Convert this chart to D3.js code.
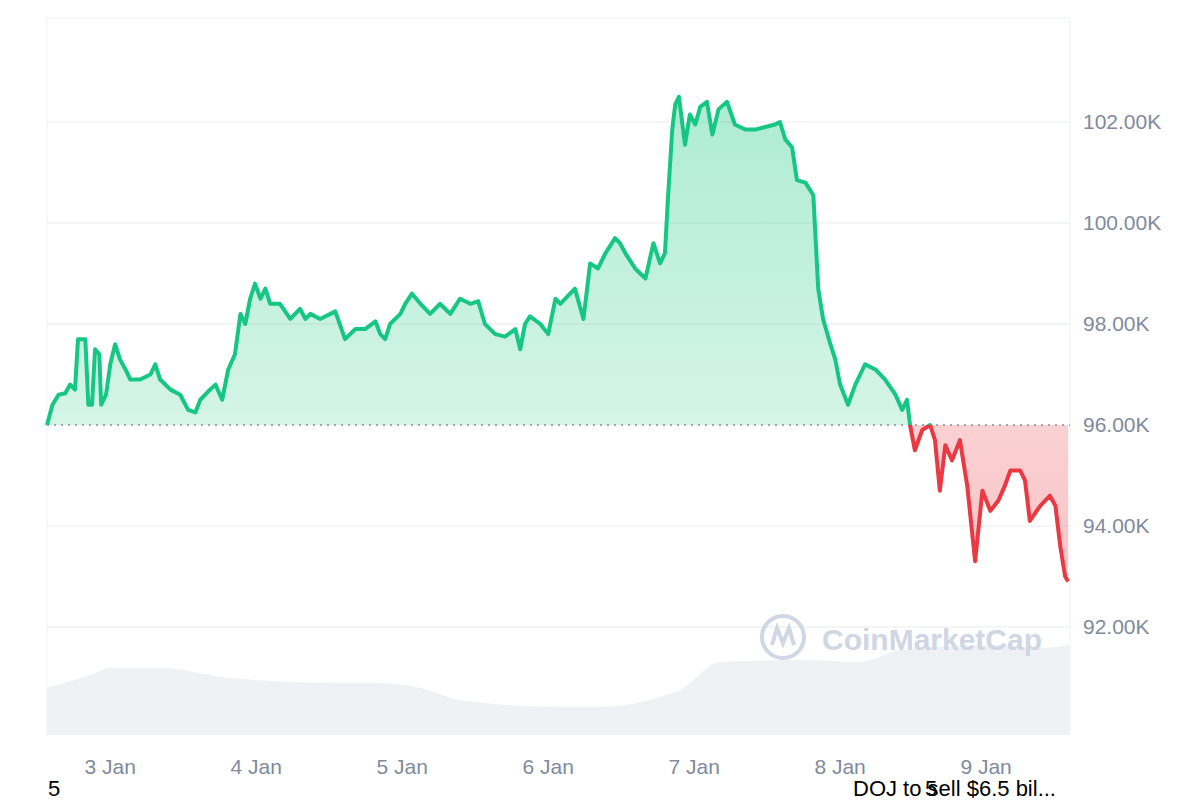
<!DOCTYPE html>
<html><head><meta charset="utf-8">
<script src="https://cdn.jsdelivr.net/npm/d3@7"></script>
<style>body{margin:0;background:#fff;font-family:"Liberation Sans",Arial,sans-serif}</style>
</head><body><svg width="1200" height="800"></svg>
<script>
// price readings: hours since 3 Jan 00:00, price in K
const priceHours = [-10.4,-9.5,-8.5,-7.4,-6.6,-5.8,-5.3,-4.1,-3.6,-3.0,-2.5,-1.8,-1.5,-0.7,0,0.8,1.6,2.5,3.3,4.9,6.6,7.4,8.2,9.9,11.5,12.8,14.0,14.8,16.4,17.3,18.4,19.4,20.5,21.4,22.2,23.0,23.8,24.7,25.5,26.3,27.9,29.6,31.2,32.1,32.9,34.5,36.2,37.0,38.6,40.3,41.9,43.6,44.4,45.2,46.0,47.7,48.5,49.6,51.0,52.6,54.2,55.9,57.5,59.2,60.5,61.6,63.3,64.9,66.6,67.4,68.2,69.0,70.7,72.0,73.2,74.0,75.6,76.4,77.8,78.9,80.2,81.4,83.0,83.8,84.7,86.3,88.0,89.3,90.4,91.2,91.7,92.4,92.9,93.5,94.5,95.3,96.2,97.0,98.1,99.0,100.0,101.4,102.7,104.4,106.0,107.7,109.3,110.1,111.0,112.1,112.9,114.3,115.6,116.4,117.2,118.4,119.2,120.0,121.3,122.5,123.3,124.1,125.8,127.4,129.1,130.2,131.0,131.5,132.3,133.5,134.8,135.6,136.4,137.3,138.4,139.7,140.9,142.2,143.4,144.7,146.0,147.1,148.0,149.6,150.4,151.2,152.9,154.5,155.4,156.2,157.0,157.5];
const prices = [96.0,96.4,96.6,96.63,96.8,96.7,97.7,97.7,96.4,96.4,97.5,97.4,96.4,96.6,97.2,97.6,97.3,97.1,96.9,96.9,97.0,97.2,96.9,96.7,96.6,96.3,96.25,96.5,96.7,96.8,96.5,97.1,97.4,98.2,98.0,98.5,98.8,98.5,98.7,98.4,98.4,98.1,98.3,98.1,98.2,98.1,98.2,98.25,97.7,97.9,97.9,98.05,97.8,97.7,98.0,98.2,98.4,98.6,98.4,98.2,98.4,98.2,98.5,98.4,98.45,98.0,97.8,97.75,97.9,97.5,98.0,98.15,98.0,97.8,98.5,98.4,98.6,98.7,98.1,99.2,99.1,99.4,99.7,99.6,99.4,99.1,98.9,99.6,99.2,99.4,100.5,101.85,102.35,102.5,101.55,102.15,101.95,102.3,102.4,101.75,102.25,102.4,101.95,101.85,101.85,101.9,101.95,102.0,101.65,101.5,100.85,100.8,100.55,98.7,98.1,97.6,97.3,96.8,96.4,96.8,97.0,97.2,97.1,96.9,96.6,96.3,96.5,96.0,95.5,95.9,96.0,95.7,94.7,95.6,95.3,95.7,94.8,93.3,94.7,94.3,94.5,94.8,95.1,95.1,94.9,94.1,94.4,94.6,94.4,93.6,93.0,92.9];
// volume readings (relative height), hours since 3 Jan 00:00
const volHours = [-10.4,-3.3,0,8.2,19.7,37.8,44.4,51.0,57.5,74.0,80.6,90.4,93.7,100.3,113.4,123.3,129.9,146.3,152.9,157.8];
const volumes = [47,60,67,67,57,52,52,47,35,28,28,38,45,73,75,73,85,90,87,90];
const baseline = 96.0;
const yTicks = [92,94,96,98,100,102];
const dayLabels = ["3 Jan","4 Jan","5 Jan","6 Jan","7 Jan","8 Jan","9 Jan"];
const newsLeft = "5", newsRight = "DOJ to sell $6.5 bil...";

const svg = d3.select("svg");
const L = 47, R = 1070, T = 18, B = 735;
const x = d3.scaleLinear().domain([-10.4, 157.8]).range([L, R]);
const y = d3.scaleLinear().domain([92, 102]).range([627, 122]);
const yv = d3.scaleLinear().domain([0, 100]).range([B, B - 100]);
const pts = priceHours.map((h, i) => [h, prices[i]]);

// frame + grid
svg.append("line").attr("x1", L).attr("x2", R).attr("y1", T).attr("y2", T).attr("stroke", "#eff2f5");
[L, R].forEach(v => svg.append("line").attr("x1", v).attr("x2", v).attr("y1", T).attr("y2", B).attr("stroke", "#eff2f5"));
svg.selectAll(".grid").data(yTicks.filter(t => t !== baseline)).enter().append("line")
  .attr("x1", L).attr("x2", R).attr("y1", d => y(d)).attr("y2", d => y(d)).attr("stroke", "#eff2f5").attr("stroke-width", 1.5);

// volume
svg.append("path").datum(volHours.map((h, i) => [h, volumes[i]]))
  .attr("fill", "#eff1f4")
  .attr("d", d3.area().x(d => x(d[0])).y0(B).y1(d => yv(d[1])).curve(d3.curveMonotoneX));

// watermark
const wm = svg.append("g").attr("transform", "translate(783,637)").attr("fill", "none").attr("stroke", "#cfd6e4").attr("stroke-width", 4);
wm.append("circle").attr("r", 21);
wm.append("path").attr("d", "M-11,8 L-6,-9 L0,6 L6,-9 L11,8");
svg.append("text").attr("x", 822).attr("y", 650).attr("fill", "#cfd6e4").attr("font-size", 30).attr("font-weight", "bold").text("CoinMarketCap");

// gradients
const defs = svg.append("defs");
function grad(id, c, top, bot) {
  const g = defs.append("linearGradient").attr("id", id).attr("x1", 0).attr("x2", 0).attr("y1", 0).attr("y2", 1);
  g.append("stop").attr("offset", 0).attr("stop-color", c).attr("stop-opacity", top);
  g.append("stop").attr("offset", 1).attr("stop-color", c).attr("stop-opacity", bot);
}
grad("gUp", "#16c784", 0.35, 0.1);
grad("gDn", "#ea3943", 0.1, 0.3);
defs.append("clipPath").attr("id", "cUp").append("rect").attr("x", 0).attr("y", 0).attr("width", 1200).attr("height", y(baseline));
defs.append("clipPath").attr("id", "cDn").append("rect").attr("x", 0).attr("y", y(baseline)).attr("width", 1200).attr("height", 800);

const area = d3.area().x(d => x(d[0])).y0(y(baseline)).y1(d => y(d[1]));
const line = d3.line().x(d => x(d[0])).y(d => y(d[1]));
svg.append("path").datum(pts).attr("d", area).attr("fill", "url(#gUp)").attr("clip-path", "url(#cUp)");
svg.append("path").datum(pts).attr("d", area).attr("fill", "url(#gDn)").attr("clip-path", "url(#cDn)");
svg.append("line").attr("x1", L).attr("x2", R).attr("y1", y(baseline)).attr("y2", y(baseline))
  .attr("stroke", "#8a8f99").attr("stroke-dasharray", "2,5").attr("stroke-width", 1.5);
svg.append("path").datum(pts).attr("d", line).attr("fill", "none").attr("stroke", "#16c784").attr("stroke-width", 4).attr("stroke-linejoin", "round").attr("clip-path", "url(#cUp)");
svg.append("path").datum(pts).attr("d", line).attr("fill", "none").attr("stroke", "#ea3943").attr("stroke-width", 4).attr("stroke-linejoin", "round").attr("clip-path", "url(#cDn)");

// y axis labels
svg.selectAll(".yl").data(yTicks).enter().append("text")
  .attr("x", 1083).attr("y", d => y(d) + 7).attr("fill", "#808a9d").attr("font-size", 21)
  .text(d => d.toFixed(2) + "K");

// x axis labels
svg.selectAll(".xl").data(dayLabels).enter().append("text")
  .attr("x", (d, i) => x(i * 24)).attr("y", 774).attr("text-anchor", "middle")
  .attr("fill", "#808a9d").attr("font-size", 21).text(d => d);

// news markers
svg.append("text").attr("x", 48).attr("y", 796).attr("font-size", 22).attr("fill", "#000").text(newsLeft);
svg.append("text").attr("x", 853).attr("y", 796).attr("font-size", 22).attr("fill", "#000").text(newsRight);
svg.append("text").attr("x", 925).attr("y", 796).attr("font-size", 22).attr("fill", "#000").text(newsLeft);
</script></body></html>
